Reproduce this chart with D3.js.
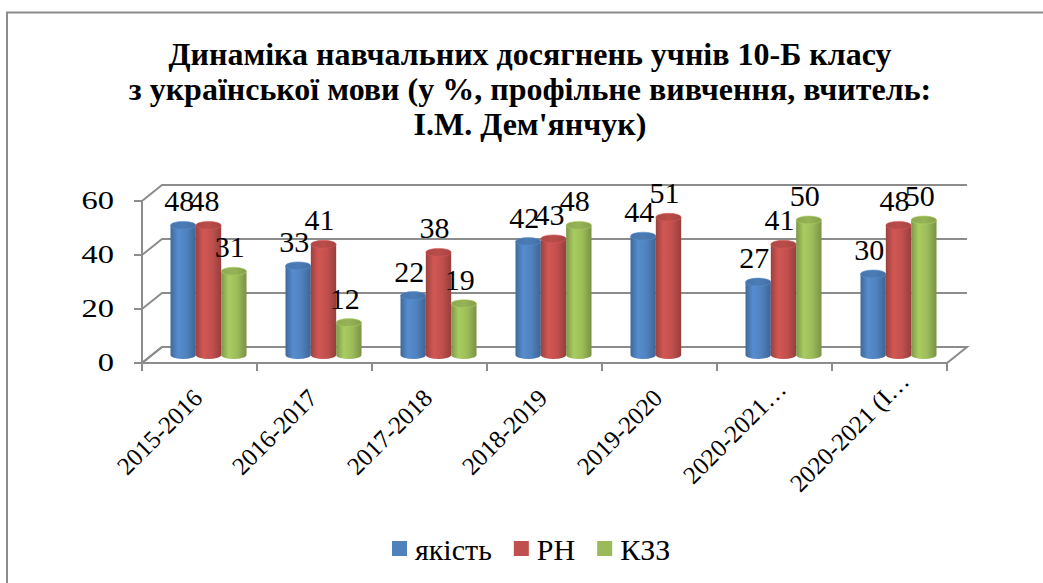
<!DOCTYPE html>
<html>
<head>
<meta charset="utf-8">
<script src="https://cdn.jsdelivr.net/npm/d3@7"></script>
<style>
	body { margin: 0; background: #fff; }
	svg { display: block; }
</style>
</head>
<body>
<svg id="chart" width="1043" height="583"></svg>
<script>
// data
const categories = ["2015-2016", "2016-2017", "2017-2018", "2018-2019", "2019-2020", "2020-2021…", "2020-2021 (І…"];
const seriesNames = ["якість", "РН", "КЗЗ"];
const quality = [48, 33, 22, 42, 44, 27, 30];
const rn = [48, 41, 38, 43, 51, 41, 48];
const kzz = [31, 12, 19, 48, null, 50, 50];
const yTicks = [0, 20, 40, 60];
const colors = ["#4F81BD", "#C0504D", "#9BBB59"];
const titleLines = [
	"Динаміка навчальних досягнень учнів 10-Б класу",
	"з української мови (у %, профільне вивчення, вчитель:",
	"І.М. Дем'янчук)"
];

const series = [quality, rn, kzz];
const font = '"Liberation Serif"';

const svg = d3.select("#chart");
const gridColor = "#8c8c8c";

// frame of the chart area
svg.append("path")
	.attr("d", "M7,583 L7,12.5 L1043,12.5")
	.attr("fill", "none")
	.attr("stroke", gridColor)
	.attr("stroke-width", 2);

// title
const title = svg.append("text")
	.style("font-family", font)
	.attr("text-anchor", "middle")
	.attr("font-weight", "bold")
	.attr("font-size", 32);

title.selectAll("tspan")
	.data(titleLines)
	.enter()
	.append("tspan")
	.attr("x", 530)
	.attr("y", (d, i) => 65 + i * 35)
	.text(d => d);

// 3d geometry: front plane + depth offset
const depthX = 20, depthY = -16;

const x = d3.scaleBand()
	.domain(categories)
	.range([142, 947]);

const y = d3.scaleLinear()
	.domain([0, 60])
	.range([363, 201]);

const inner = d3.scaleBand()
	.domain(seriesNames)
	.range([-38, 38]);

const grid = svg.append("g");

// floor
grid.append("path")
	.attr("d", `M${x.range()[0]},${y(0)} L${x.range()[1]},${y(0)} L${x.range()[1] + depthX},${y(0) + depthY} L${x.range()[0] + depthX},${y(0) + depthY} Z`)
	.attr("fill", "none")
	.attr("stroke", gridColor)
	.attr("stroke-width", 2);

// gridlines on side and back wall
grid.selectAll(".gridline")
	.data(yTicks)
	.enter()
	.append("path")
	.classed("gridline", true)
	.attr("d", d => `M${x.range()[0]},${y(d)} L${x.range()[0] + depthX},${y(d) + depthY} L${x.range()[1] + depthX},${y(d) + depthY}`)
	.attr("fill", "none")
	.attr("stroke", gridColor)
	.attr("stroke-width", 2);

// value axis
grid.append("line")
	.attr("x1", x.range()[0]).attr("x2", x.range()[0])
	.attr("y1", y(0)).attr("y2", y(60))
	.attr("stroke", gridColor)
	.attr("stroke-width", 2);

grid.selectAll(".ytick")
	.data(yTicks)
	.enter()
	.append("line")
	.attr("x1", x.range()[0] - 8).attr("x2", x.range()[0])
	.attr("y1", d => y(d)).attr("y2", d => y(d))
	.attr("stroke", gridColor)
	.attr("stroke-width", 2);

svg.selectAll(".ylabel")
	.data(yTicks)
	.enter()
	.append("text")
	.style("font-family", font)
	.attr("text-anchor", "end")
	.attr("font-size", 25)
	.attr("transform", d => `translate(114,${y(d) + 8}) scale(1.3,1)`)
	.text(d => d);

// category ticks
const boundaries = categories.map(c => x(c)).concat([x.range()[1]]);
grid.selectAll(".xtick")
	.data(boundaries)
	.enter()
	.append("line")
	.attr("x1", d => d).attr("x2", d => d)
	.attr("y1", y(0)).attr("y2", y(0) + 8)
	.attr("stroke", gridColor)
	.attr("stroke-width", 2);

svg.selectAll(".xlabel")
	.data(categories)
	.enter()
	.append("text")
	.style("font-family", font)
	.attr("text-anchor", "middle")
	.attr("font-size", 25)
	.attr("transform", d => `translate(${x(d) + x.bandwidth() / 2 - 34},438) rotate(-45)`)
	.text(d => d);

// gradients for the cylinders
const defs = svg.append("defs");
colors.forEach((c, i) => {
	const base = d3.color(c);
	const gr = defs.append("linearGradient")
		.attr("id", "body" + i)
		.attr("x1", 0).attr("x2", 1).attr("y1", 0).attr("y2", 0);
	gr.append("stop").attr("offset", 0).attr("stop-color", base.darker(0.6));
	gr.append("stop").attr("offset", 0.3).attr("stop-color", base.brighter(0.25));
	gr.append("stop").attr("offset", 0.65).attr("stop-color", base);
	gr.append("stop").attr("offset", 1).attr("stop-color", base.darker(0.7));

	const tg = defs.append("linearGradient")
		.attr("id", "top" + i)
		.attr("x1", 0).attr("x2", 1).attr("y1", 0).attr("y2", 0);
	tg.append("stop").attr("offset", 0).attr("stop-color", base.darker(0.3));
	tg.append("stop").attr("offset", 0.5).attr("stop-color", base.darker(0.1));
	tg.append("stop").attr("offset", 1).attr("stop-color", base.darker(0.45));
});

// cylinders sit half way back
const midX = depthX / 2, midY = depthY / 2;
const ry = 4;

const bars = [];
categories.forEach((c, ci) => {
	seriesNames.forEach((s, si) => {
		const v = series[si][ci];
		if (v == null) return;
		bars.push({
			cat: c,
			si: si,
			value: v,
			cx: x(c) + x.bandwidth() / 2 + midX + inner(s) + inner.bandwidth() / 2 - 1
		});
	});
});

const rx = inner.bandwidth() / 2;

const barG = svg.append("g")
	.selectAll("g")
	.data(bars)
	.enter()
	.append("g");

barG.append("path")
	.attr("d", d => {
		const top = y(d.value) + midY, bot = y(0) + midY;
		return `M${d.cx - rx},${top} L${d.cx - rx},${bot} A${rx},${ry} 0 0 0 ${d.cx + rx},${bot} L${d.cx + rx},${top} Z`;
	})
	.attr("fill", d => "url(#body" + d.si + ")");

barG.append("ellipse")
	.attr("cx", d => d.cx)
	.attr("cy", d => y(d.value) + midY)
	.attr("rx", rx)
	.attr("ry", ry)
	.attr("fill", d => "url(#top" + d.si + ")")
	.attr("stroke", d => d3.color(colors[d.si]).brighter(0.3))
	.attr("stroke-width", 0.6);

// data labels
svg.append("g")
	.selectAll("text")
	.data(bars)
	.enter()
	.append("text")
	.style("font-family", font)
	.attr("text-anchor", "middle")
	.attr("font-size", 30)
	.attr("x", d => d.cx - 4)
	.attr("y", d => y(d.value) + midY - 14)
	.text(d => d.value);

// legend
const legend = svg.append("g");
let lx = 392;
seriesNames.forEach((s, i) => {
	legend.append("rect")
		.attr("x", lx).attr("y", 541)
		.attr("width", 15).attr("height", 15)
		.attr("fill", colors[i]);
	const t = legend.append("text")
		.style("font-family", font)
		.attr("x", lx + 23)
		.attr("y", 560)
		.attr("font-size", 30)
		.text(s);
	lx += 23 + t.node().getComputedTextLength() + 22;
});
</script>
</body>
</html>
